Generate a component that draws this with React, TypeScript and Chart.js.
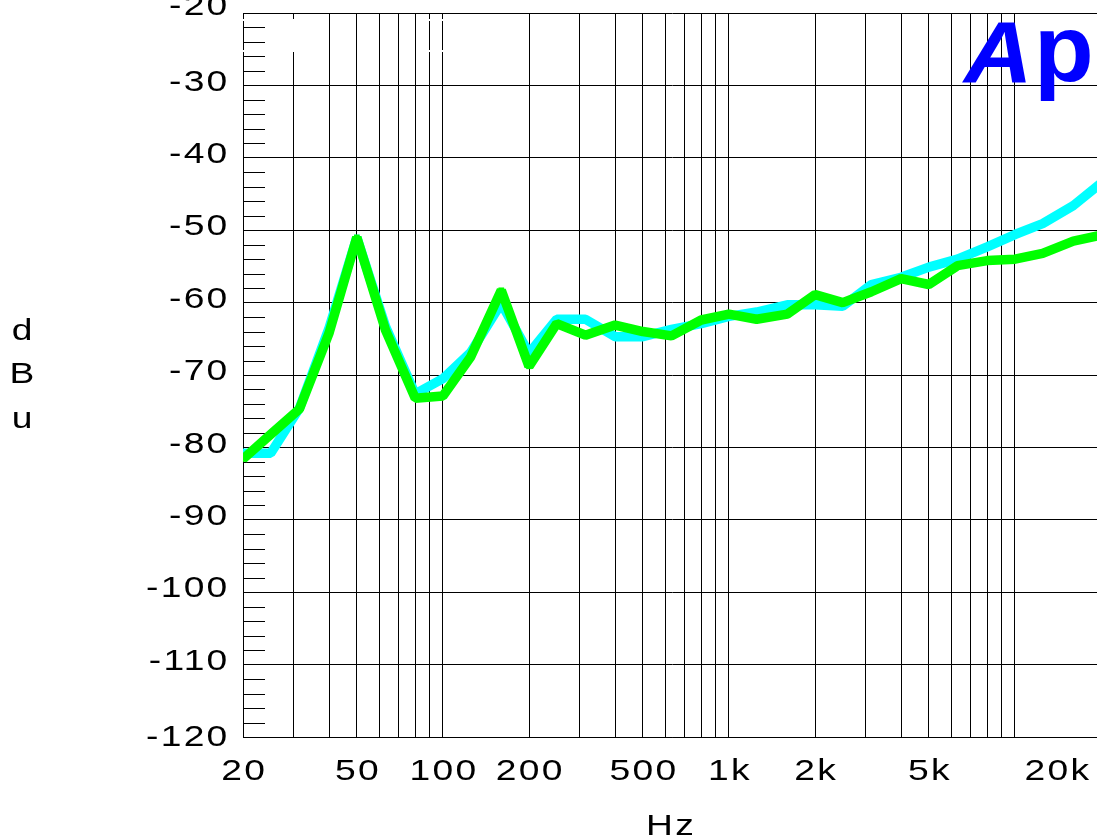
import React, { useEffect, useRef } from "react";
import { Chart, registerables } from "chart.js";

Chart.register(...registerables);

// ---- data ----
const FREQS = [
  20, 25, 31.5, 40, 50, 63, 80, 100, 125, 160, 200, 250, 315, 400, 500, 630, 800,
  1000, 1250, 1600, 2000, 2500, 3150, 4000, 5000, 6300, 8000, 10000, 12500, 16000, 20000,
];
const CH_A_CYAN = [
  -80.8, -80.8, -74.6, -63.5, -51.0, -63.3, -72.6, -70.5, -66.9, -60.1, -67.0, -62.3,
  -62.3, -64.7, -64.7, -63.7, -62.9, -61.9, -61.3, -60.3, -60.3, -60.5, -57.5, -56.5,
  -55.1, -54.0, -52.3, -50.6, -49.1, -46.6, -43.5,
];
const CH_B_GREEN = [
  -81.6, -78.2, -74.7, -64.2, -51.0, -63.8, -73.2, -72.9, -67.5, -58.3, -68.8, -62.9,
  -64.5, -63.1, -64.0, -64.6, -62.4, -61.6, -62.3, -61.6, -58.9, -60.0, -58.5, -56.7,
  -57.5, -54.9, -54.2, -54.0, -53.2, -51.5, -50.7,
];

const X_GRID = [
  20, 30, 40, 50, 60, 70, 80, 90, 100, 200, 300, 400, 500, 600, 700, 800, 900, 1000,
  2000, 3000, 4000, 5000, 6000, 7000, 8000, 9000, 10000, 20000,
];
const X_LABEL_VALUES = [20, 50, 100, 200, 500, 1000, 2000, 5000, 20000];
const X_LABEL_TEXT = ["20", "50", "100", "200", "500", "1k", "2k", "5k", "20k"];
const Y_TICKS = [-120, -110, -100, -90, -80, -70, -60, -50, -40, -30, -20];
const Y_MINOR_STEP = 2;

const X_TITLE = "Hz";
const Y_TITLE = ["d", "B", "u"];
const LOGO = ["A", "p"];

// ---- layout ----
const VIEW_W = 1097;
const VIEW_H = 840;
const CANVAS_W = 1110;
const PLOT_LEFT = 243;
const PLOT_TOP = 13;
const PLOT_RIGHT = 1101;
const PLOT_BOTTOM = 737;

const FONT = '30px "Liberation Sans", Arial, sans-serif';
const STRETCH = 1.24;
const SPACING = 1.85;

function drawStretched(
  ctx: CanvasRenderingContext2D,
  text: string,
  x: number,
  baseline: number,
  align: "left" | "center" | "right"
) {
  ctx.save();
  ctx.font = FONT;
  (ctx as any).letterSpacing = SPACING + "px";
  ctx.textAlign = "left";
  ctx.textBaseline = "alphabetic";
  ctx.fillStyle = "#000";
  const w = (ctx.measureText(text).width - (text.length > 0 ? SPACING : 0)) * STRETCH;
  let x0 = x;
  if (align === "center") x0 = x - w / 2;
  else if (align === "right") x0 = x - w;
  ctx.translate(x0, baseline);
  ctx.scale(STRETCH, 1);
  ctx.fillText(text, 0, 0);
  ctx.restore();
  return w;
}

const decorPlugin = {
  id: "apDecor",
  beforeDatasetsDraw(chart: any) {
    const ctx: CanvasRenderingContext2D = chart.ctx;
    const { left } = chart.chartArea;
    const xs = chart.scales.x;
    const ys = chart.scales.y;
    ctx.save();
    // blank box artefact in the top-left corner
    ctx.fillStyle = "#fff";
    const x30 = xs.getPixelForValue(30);
    ctx.fillRect(x30 - 3, 19, 6, 33);
    const x90 = xs.getPixelForValue(90);
    const x100 = xs.getPixelForValue(100);
    [left, x90, x100].forEach((px: number) => {
      ctx.fillRect(px - 2, 19, 4, 2);
      ctx.fillRect(px - 2, 50, 4, 2);
    });
    // minor ticks on the y axis
    ctx.strokeStyle = "#000";
    ctx.lineWidth = 1;
    const yMin = Y_TICKS[0];
    const yMax = Y_TICKS[Y_TICKS.length - 1];
    for (let v = yMin + Y_MINOR_STEP; v < yMax; v += Y_MINOR_STEP) {
      if (Y_TICKS.indexOf(v) >= 0) continue;
      const py = Math.round(ys.getPixelForValue(v)) + 0.5;
      ctx.beginPath();
      ctx.moveTo(left, py);
      ctx.lineTo(left + 22, py);
      ctx.stroke();
    }
    ctx.restore();
  },
  afterDraw(chart: any) {
    const ctx: CanvasRenderingContext2D = chart.ctx;
    const xs = chart.scales.x;
    const ys = chart.scales.y;
    // y tick labels
    Y_TICKS.forEach((v) => {
      const gy = ys.getPixelForValue(v);
      let off = -5.5;
      if (v === Y_TICKS[0]) off = -1.5;
      if (v === Y_TICKS[Y_TICKS.length - 1]) off = -8.7;
      drawStretched(ctx, String(v), 227.3, gy + off + 10.7, "right");
    });
    // x tick labels
    X_LABEL_VALUES.forEach((v, i) => {
      const px = xs.getPixelForValue(v);
      const text = X_LABEL_TEXT[i];
      ctx.save();
      ctx.font = FONT;
      (ctx as any).letterSpacing = SPACING + "px";
      const w = (ctx.measureText(text).width - SPACING) * STRETCH;
      ctx.restore();
      if (px + w / 2 > VIEW_W - 7) {
        drawStretched(ctx, text, VIEW_W - 8, 780, "right");
      } else {
        drawStretched(ctx, text, px, 780, "center");
      }
    });
    // axis titles
    drawStretched(ctx, X_TITLE, 670, 835, "center");
    const yTitleBaselines = [340, 382.7, 428.3];
    Y_TITLE.forEach((ch, i) => drawStretched(ctx, ch, 22, yTitleBaselines[i], "center"));
    // logo
    ctx.save();
    ctx.fillStyle = "#0000ff";
    ctx.textBaseline = "alphabetic";
    ctx.textAlign = "left";
    ctx.font = 'italic bold 88px "Liberation Sans", Arial, sans-serif';
    ctx.translate(964, 82);
    ctx.scale(1.08, 1);
    ctx.fillText(LOGO[0], 0, 0);
    ctx.restore();
    ctx.save();
    ctx.fillStyle = "#0000ff";
    ctx.textBaseline = "alphabetic";
    ctx.textAlign = "left";
    ctx.font = 'bold 94px "Liberation Sans", Arial, sans-serif';
    ctx.translate(1034, 81);
    ctx.scale(1.04, 1);
    ctx.fillText(LOGO[1], 0, 0);
    ctx.restore();
  },
};

export default function App() {
  const ref = useRef<HTMLCanvasElement | null>(null);

  useEffect(() => {
    if (!ref.current) return;
    const mk = (vals: number[]) => FREQS.map((f, i) => ({ x: f, y: vals[i] }));
    const chart = new Chart(ref.current, {
      type: "line",
      data: {
        datasets: [
          {
            label: "A",
            order: 2,
            data: mk(CH_A_CYAN),
            borderColor: "#00ffff",
            backgroundColor: "#00ffff",
            borderWidth: 9.5,
            borderJoinStyle: "bevel",
            tension: 0,
            pointStyle: "rect",
            pointRadius: 4,
            pointBorderWidth: 0,
            pointBackgroundColor: "#00ffff",
          },
          {
            label: "B",
            order: 1,
            data: mk(CH_B_GREEN),
            borderColor: "#00ff00",
            backgroundColor: "#00ff00",
            borderWidth: 9.5,
            borderJoinStyle: "bevel",
            tension: 0,
            pointStyle: "rect",
            pointRadius: 4,
            pointBorderWidth: 0,
            pointBackgroundColor: "#00ff00",
          },
        ],
      },
      options: {
        animation: false,
        responsive: true,
        maintainAspectRatio: false,
        events: [],
        layout: {
          padding: {
            left: PLOT_LEFT,
            top: PLOT_TOP,
            right: CANVAS_W - PLOT_RIGHT,
            bottom: VIEW_H - PLOT_BOTTOM,
          },
        },
        plugins: {
          legend: { display: false },
          tooltip: { enabled: false },
        },
        scales: {
          x: {
            type: "logarithmic",
            min: X_GRID[0],
            max: X_GRID[X_GRID.length - 1],
            afterBuildTicks: (s: any) => {
              s.ticks = X_GRID.map((v) => ({ value: v }));
            },
            ticks: { display: false },
            grid: { color: "#000", lineWidth: 1, drawTicks: false },
            border: { display: true, color: "#000", width: 1 },
          },
          y: {
            type: "linear",
            min: Y_TICKS[0],
            max: Y_TICKS[Y_TICKS.length - 1],
            afterBuildTicks: (s: any) => {
              s.ticks = Y_TICKS.map((v) => ({ value: v }));
            },
            ticks: { display: false },
            grid: { color: "#000", lineWidth: 1, drawTicks: false },
            border: { display: true, color: "#000", width: 1 },
          },
        },
      },
      plugins: [decorPlugin],
    } as any);
    return () => chart.destroy();
  }, []);

  return (
    <div
      style={{
        position: "absolute",
        left: 0,
        top: 0,
        width: VIEW_W,
        height: VIEW_H,
        overflow: "hidden",
        background: "#fff",
      }}
    >
      <div style={{ position: "relative", width: CANVAS_W, height: VIEW_H }}>
        <canvas ref={ref} />
      </div>
    </div>
  );
}
